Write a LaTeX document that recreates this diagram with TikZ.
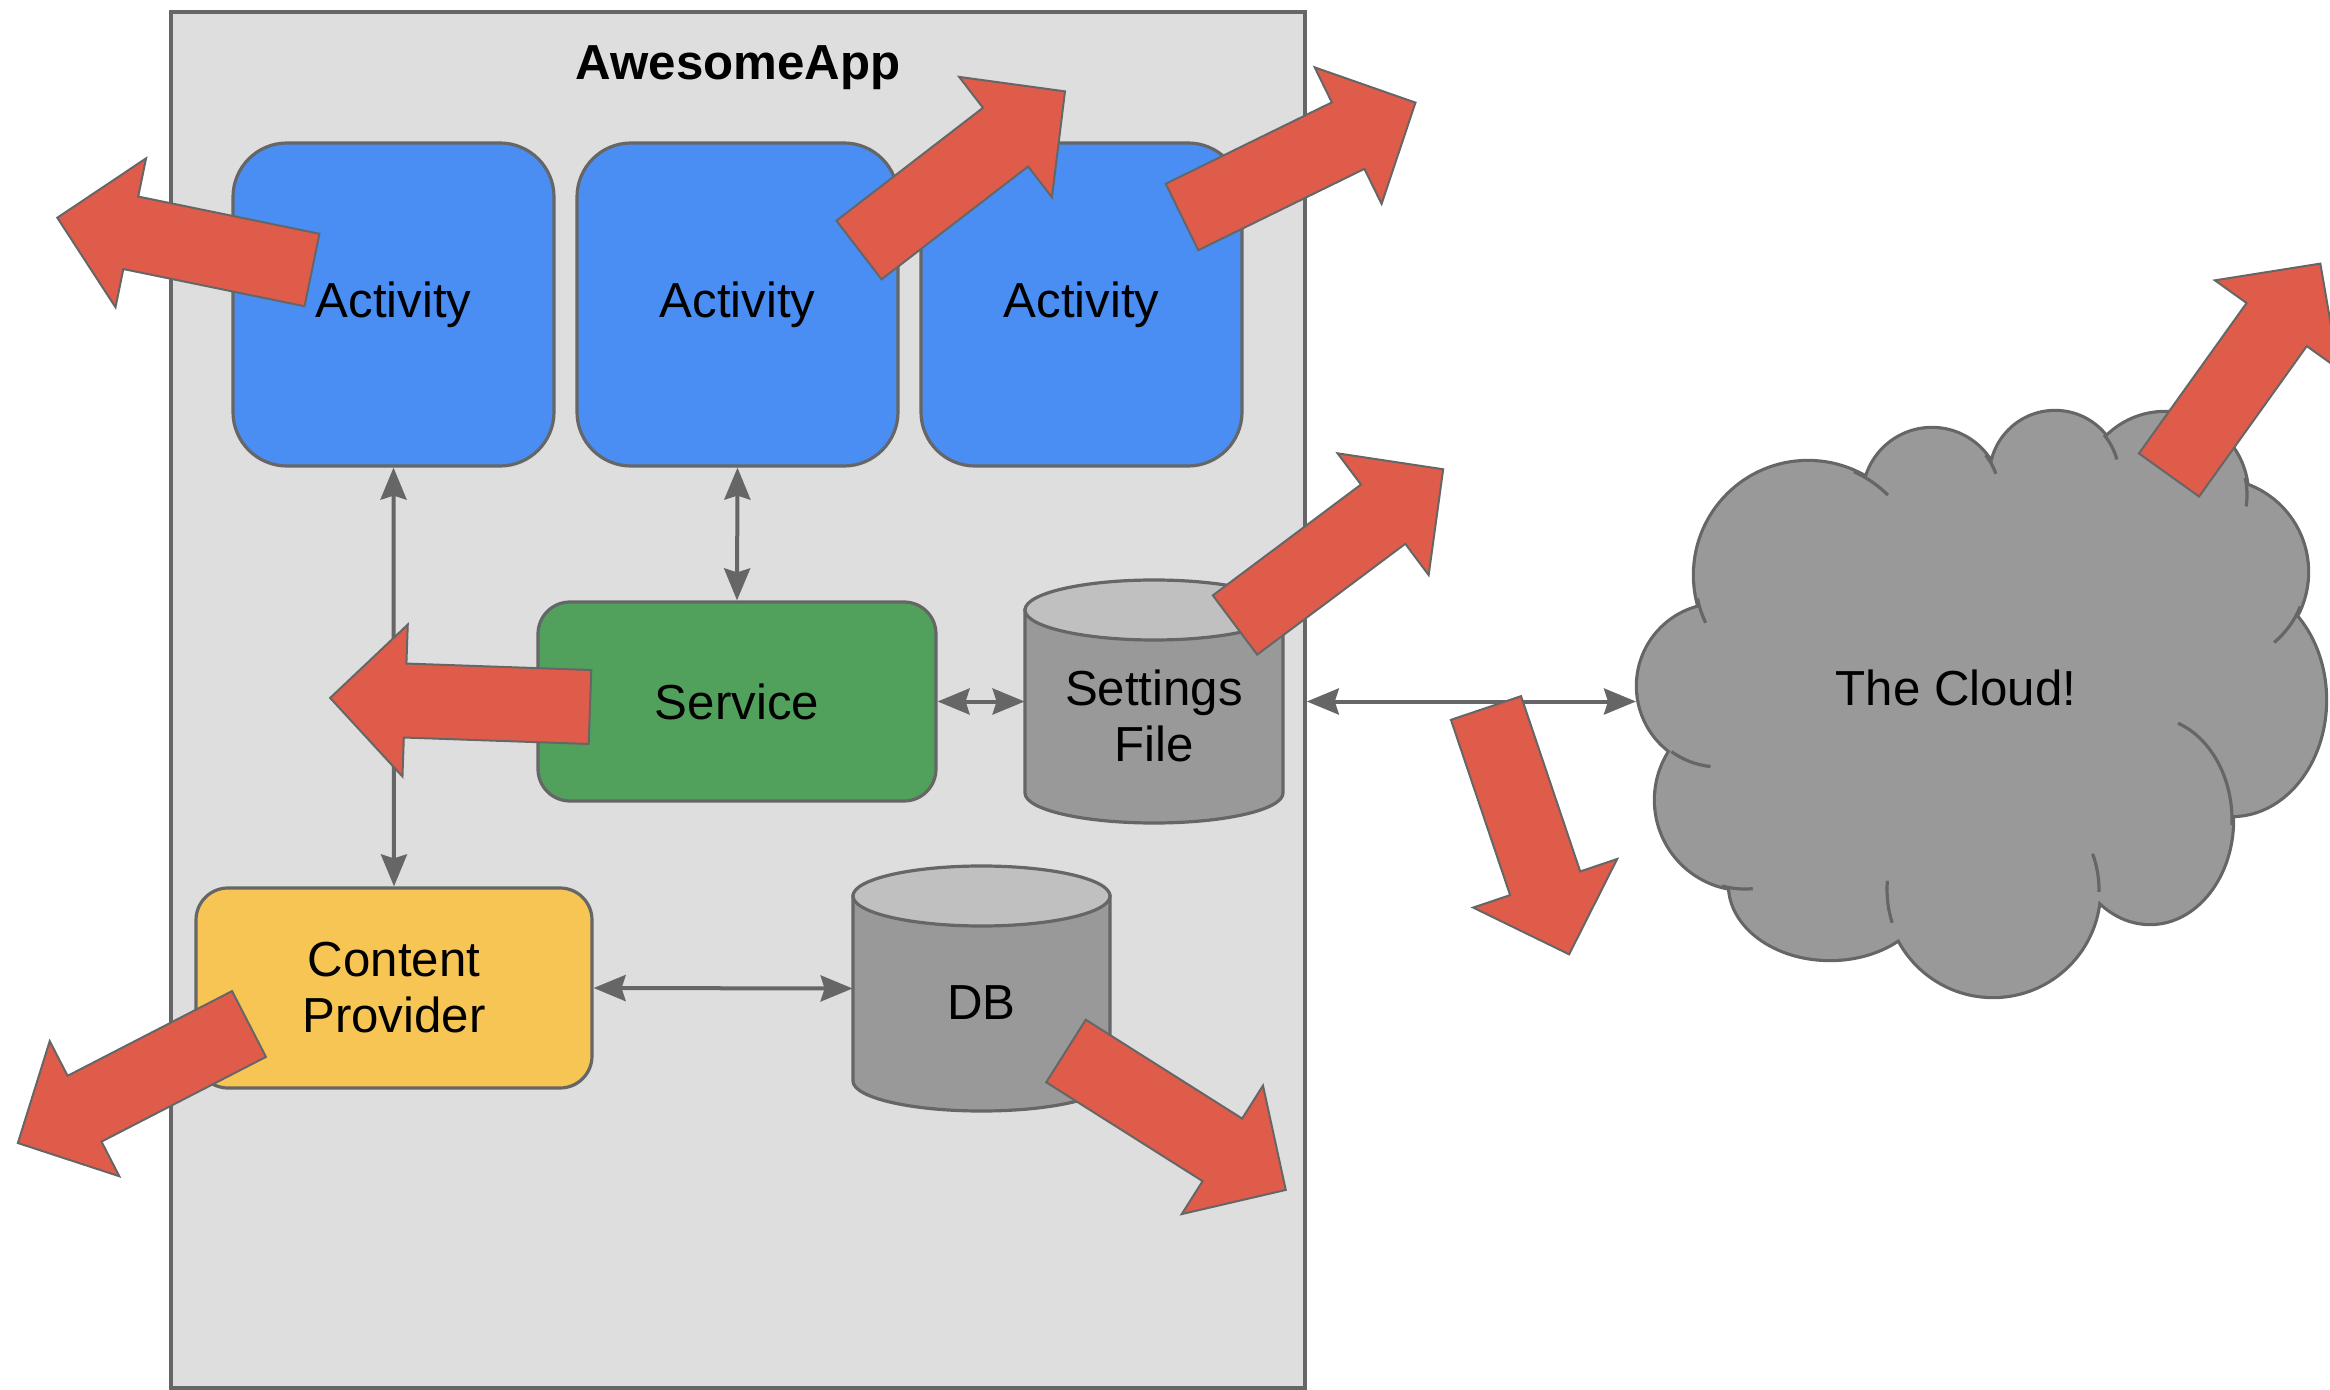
\documentclass[tikz,border=0pt]{standalone}
\usepackage{fontspec}
\setmainfont{Liberation Sans}
\usetikzlibrary{arrows.meta}

\definecolor{appfill}{HTML}{DEDEDE}
\definecolor{edge}{HTML}{666666}
\definecolor{actblue}{HTML}{4A8DF3}
\definecolor{svcgreen}{HTML}{51A15C}
\definecolor{cpyellow}{HTML}{F6C553}
\definecolor{cylbody}{HTML}{999999}
\definecolor{cyltop}{HTML}{C0C0C0}
\definecolor{cloudgray}{HTML}{999999}
\definecolor{flowred}{HTML}{E05C4A}

\newcommand\lbl{\fontsize{24.6pt}{28pt}\selectfont}

% vertical drum: left x, right x, top y, bottom y (cap half-height 30)
\newcommand\drawdrum[4]{%
  \pgfmathsetmacro\dcx{(#1+#2)/2}%
  \pgfmathsetmacro\drx{(#2-#1)/2}%
  \path[drumbody] (#1,#3+30) -- (#1,#4-30)
     arc[start angle=180, end angle=0, x radius=\drx, y radius=30]
     -- (#2,#3+30) -- cycle;
  \path[drumtop] (\dcx,#3+30) ellipse[x radius=\drx, y radius=30];
}

% block arrow: tail centre x, tail centre y, rotation
\newcommand\flowarrow[3]{%
  \path[bigarrow, shift={(#1,#2)}, rotate=#3]
    (0,-37) -- (185,-37) -- (185,-76) -- (260,0) -- (185,76) -- (185,37) -- (0,37) -- cycle;
}

% lobes of the cloud
\newcommand\cloudlobes[1]{%
  \path[#1]
    (1719,686) circle[radius=81]
    (1745,800) circle[radius=89]
    (1830,885) ellipse[x radius=100, y radius=74]
    (1993,890) circle[radius=106]
    (2150,820) ellipse[x radius=82, y radius=103]
    (2232,700) ellipse[x radius=93, y radius=115]
    (2215,572) circle[radius=92]
    (2165,495) circle[radius=82]
    (2055,476) circle[radius=64]
    (1932,497) circle[radius=68]
    (1808,575) circle[radius=113];
}

\tikzset{
  panel/.style={draw=edge, line width=1.8pt, fill=appfill, inner sep=0pt,
    minimum width=567pt, minimum height=688pt},
  card/.style={draw=edge, line width=1.6pt, inner sep=0pt, align=center,
    font=\lbl, text=black},
  activitybox/.style={card, fill=actblue, minimum width=160.5pt,
    minimum height=161.5pt, rounded corners=27pt},
  servicebox/.style={card, fill=svcgreen, minimum width=199pt,
    minimum height=99.5pt, rounded corners=16pt},
  providerbox/.style={card, fill=cpyellow, minimum width=198pt,
    minimum height=100pt, rounded corners=16pt},
  spot/.style={inner sep=0pt},
  caption/.style={font=\lbl, align=center, inner sep=0pt, text=black},
  tip/.style={Stealth[length=16pt,width=13pt,inset=2pt]},
  link/.style={draw=edge, line width=2pt, {Stealth[length=16pt,width=13pt,inset=2pt]}-{Stealth[length=16pt,width=13pt,inset=2pt]}},
  drumbody/.style={fill=cylbody, draw=edge, line width=1.6pt},
  drumtop/.style={fill=cyltop, draw=edge, line width=1.6pt},
  cloudrim/.style={draw=edge, line width=3.2pt},
  cloudline/.style={draw=edge, line width=1.6pt},
  bigarrow/.style={fill=flowred, draw=edge, line width=1pt, line join=miter},
}

\begin{document}
\begin{tikzpicture}[x=0.5pt, y=-0.5pt]
\useasboundingbox (0,0) rectangle (2330,1390);

% application container
\node[panel] (app) at (738,700) {};
\node[caption, font=\lbl\bfseries] (title) at (738,68) {AwesomeApp};

% activities
\node[activitybox] (act1) at (393.5,304.5) {Activity};
\node[activitybox] (act2) at (737.5,304.5) {Activity};
\node[activitybox] (act3) at (1081.5,304.5) {Activity};

% service and content provider
\node[servicebox] (svc) at (737,701.5) {Service};
\node[providerbox] (cp) at (394,988) {Content\\Provider};

% storage drums
\node[spot, minimum width=129pt, minimum height=121.5pt] (sf) at (1154,701.5) {};
\node[spot, minimum width=128.5pt, minimum height=122.5pt] (db) at (981.5,988.5) {};
\drawdrum{1025}{1283}{580}{823}
\drawdrum{853}{1110}{866}{1111}
\node[caption] (sftext) at (1154,716) {Settings\\File};
\node[caption] (dbtext) at (981.5,1003) {DB};

% the cloud
\cloudlobes{cloudrim}
\cloudlobes{fill=cloudgray}
\fill[cloudgray] (1719,686) -- (1745,800) -- (1830,885) -- (1993,890) -- (2150,820)
  -- (2232,700) -- (2215,572) -- (2165,495) -- (2055,476) -- (1932,497) -- (1808,575) -- cycle;
\draw[cloudline] (1808,575) ++(-66:113) arc[start angle=-66, end angle=-45, radius=113];
\draw[cloudline] (1932,497) ++(-38:68) arc[start angle=-38, end angle=-20, radius=68];
\draw[cloudline] (2055,476) ++(-40:64) arc[start angle=-40, end angle=-15, radius=64];
\draw[cloudline] (2165,495) ++(-12:82) arc[start angle=-12, end angle=8, radius=82];
\draw[cloudline] (2215,572) ++(22:92) arc[start angle=22, end angle=50, radius=92];
\draw[cloudline] (2150,820) ++(-70:82 and 103) arc[start angle=-70, end angle=3, x radius=82, y radius=103];
\draw[cloudline] (1993,890) ++(1:106) arc[start angle=1, end angle=-20, radius=106];
\draw[cloudline] (1993,890) ++(162:106) arc[start angle=162, end angle=185, radius=106];
\draw[cloudline] (1745,800) ++(105:89) arc[start angle=105, end angle=85, radius=89];
\draw[cloudline] (1719,686) ++(126:81) arc[start angle=126, end angle=96, radius=81];
\draw[cloudline] (1808,575) ++(168:113) arc[start angle=168, end angle=155, radius=113];
\node[caption] (cloud) at (1956,688) {The Cloud!};
\coordinate (cloudport) at (1636,701.5);

% connectors
\draw[link] (act1.south) -- (cp.north);
\draw[link] (act2.south) -- (svc.north);
\draw[link] (svc.east) -- (sf.west);
\draw[link] (cp.east) -- (db.west);
\draw[link] (app.east |- sf.east) -- (cloudport);

% outgoing block arrows
\flowarrow{312}{270}{168.4}
\flowarrow{859}{250}{37.6}
\flowarrow{1182}{217}{26.1}
\flowarrow{1235}{625}{36.8}
\flowarrow{590}{707}{178}
\flowarrow{249}{1024}{-152.75}
\flowarrow{1066}{1051}{-32.3}
\flowarrow{1486}{708}{-71.35}
\flowarrow{2169}{475}{54.4}
\end{tikzpicture}
\end{document}
